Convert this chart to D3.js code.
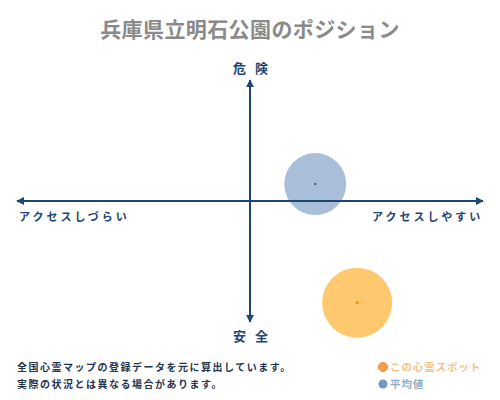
<!DOCTYPE html>
<html>
<head>
<meta charset="utf-8">
<script src="https://cdn.jsdelivr.net/npm/d3@7"></script>
<style>
  body { margin: 0; background: #fff; }
  text { font-family: "Noto Sans CJK JP", "Noto Sans", sans-serif; }
</style>
</head>
<body>
<div id="chart"></div>
<script>
// series: [access (-1 hard .. 1 easy), danger (-1 safe .. 1 dangerous), size]
const seriesNames = ["この心霊スポット", "平均値"];
const accessValues = [0.46, 0.28];
const dangerValues = [-0.84, 0.14];
const sizeValues = [35, 31];
const fillColors = ["#fec96e", "#a9bfd9"];
const dotColors = ["#f39c12", "#1f3b57"];
const legendColors = ["#f0a04b", "#6f9bc3"];
const legendTextColors = ["#f3c383", "#8eaecb"];

const axisLabels = { top: "危 険", bottom: "安 全", left: "アクセスしづらい", right: "アクセスしやすい" };
const notes = ["全国心霊マップの登録データを元に算出しています。", "実際の状況とは異なる場合があります。"];

const width = 500, height = 400;
const navy = "#1d4671";

const svg = d3.select("#chart").append("svg")
    .attr("width", width)
    .attr("height", height);

// Scales for the quadrant
const x = d3.scaleLinear().domain([-1, 1]).range([17, 483]);
const y = d3.scaleLinear().domain([-1, 1]).range([322, 80]);

// Arrow head marker
svg.append("defs").append("marker")
    .attr("id", "arrow")
    .attr("viewBox", "0 0 10 10")
    .attr("refX", 9)
    .attr("refY", 5)
    .attr("markerWidth", 4)
    .attr("markerHeight", 4)
    .attr("orient", "auto-start-reverse")
    .append("path")
    .attr("d", "M0,0 L10,5 L0,10 z")
    .attr("fill", navy);

// Title
svg.append("text")
    .attr("x", width / 2)
    .attr("y", 37)
    .attr("text-anchor", "middle")
    .attr("font-size", 21)
    .attr("font-weight", "bold")
    .attr("letter-spacing", 0.4)
    .attr("fill", "#8a8a8a")
    .text("兵庫県立明石公園のポジション");

// Bubbles (drawn under the axes)
const bubbles = svg.selectAll(".bubble")
    .data(seriesNames.map((name, i) => ({ name, i })))
    .enter()
    .append("g")
    .attr("class", "bubble");

bubbles.append("circle")
    .attr("cx", d => x(accessValues[d.i]))
    .attr("cy", d => y(dangerValues[d.i]))
    .attr("r", d => sizeValues[d.i])
    .attr("fill", d => fillColors[d.i]);

// Axes with arrows on both ends
svg.append("line")
    .attr("x1", x(-1)).attr("y1", y(0))
    .attr("x2", x(1)).attr("y2", y(0))
    .attr("stroke", navy)
    .attr("stroke-width", 2)
    .attr("marker-start", "url(#arrow)")
    .attr("marker-end", "url(#arrow)");

svg.append("line")
    .attr("x1", x(0)).attr("y1", y(-1))
    .attr("x2", x(0)).attr("y2", y(1))
    .attr("stroke", navy)
    .attr("stroke-width", 2)
    .attr("marker-start", "url(#arrow)")
    .attr("marker-end", "url(#arrow)");

// Centre dots
bubbles.append("circle")
    .attr("cx", d => x(accessValues[d.i]))
    .attr("cy", d => y(dangerValues[d.i]))
    .attr("r", d => d.i === 0 ? 1.8 : 1)
    .attr("fill", d => dotColors[d.i]);

// Axis labels
const labelStyle = sel => sel
    .attr("font-weight", "bold")
    .attr("fill", navy);

svg.append("text").call(labelStyle)
    .attr("x", x(0) + 2).attr("y", 73)
    .attr("text-anchor", "middle")
    .attr("font-size", 13)
    .attr("letter-spacing", 3)
    .text(axisLabels.top);

svg.append("text").call(labelStyle)
    .attr("x", x(0) + 2).attr("y", 341)
    .attr("text-anchor", "middle")
    .attr("font-size", 13)
    .attr("letter-spacing", 3)
    .text(axisLabels.bottom);

svg.append("text").call(labelStyle)
    .attr("x", 19).attr("y", 221)
    .attr("font-size", 11)
    .attr("letter-spacing", 3)
    .text(axisLabels.left);

svg.append("text").call(labelStyle)
    .attr("x", 372).attr("y", 221)
    .attr("font-size", 11)
    .attr("letter-spacing", 3)
    .text(axisLabels.right);

// Footnotes
svg.selectAll(".note")
    .data(notes)
    .enter()
    .append("text")
    .attr("class", "note")
    .attr("x", 17)
    .attr("y", (d, i) => 371 + i * 17)
    .attr("font-size", 10)
    .attr("font-weight", "bold")
    .attr("letter-spacing", 1.5)
    .attr("fill", "#1f3550")
    .text(d => d);

// Legend
const legend = svg.selectAll(".legend")
    .data(seriesNames)
    .enter()
    .append("g")
    .attr("class", "legend")
    .attr("transform", (d, i) => `translate(383,${367 + i * 17})`);

legend.append("circle")
    .attr("r", 4.5)
    .attr("fill", (d, i) => legendColors[i])
    .attr("stroke", (d, i) => i === 0 ? "#e8903a" : "none")
    .attr("stroke-width", 1);

legend.append("text")
    .attr("x", 7)
    .attr("y", 4)
    .attr("font-size", 10.5)
    .attr("font-weight", "bold")
    .attr("letter-spacing", 0.9)
    .attr("fill", (d, i) => legendTextColors[i])
    .text(d => d);
</script>
</body>
</html>
